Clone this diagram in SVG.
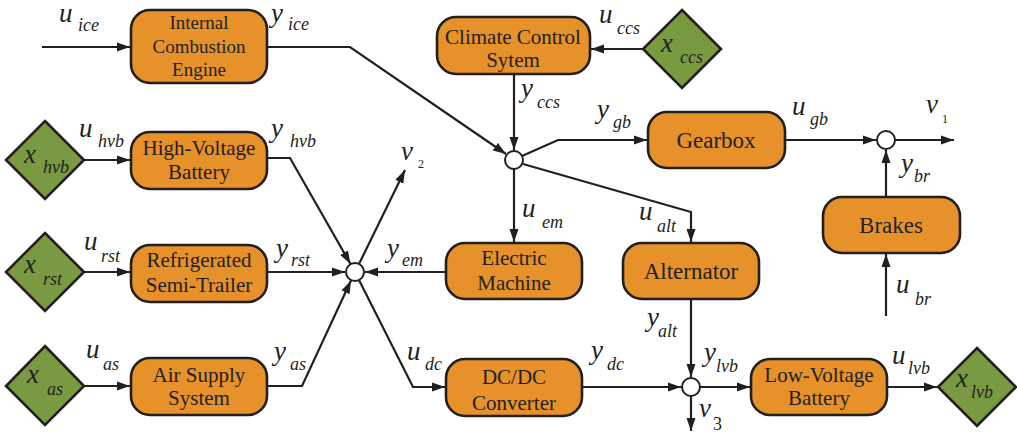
<svg xmlns="http://www.w3.org/2000/svg" width="1017" height="436" viewBox="0 0 1017 436">
<style>
svg text, svg tspan, #nodes text, #labels text, #labels tspan {font-family:"Liberation Serif","Times New Roman",serif !important}
</style>
<defs>
<marker id="ah" markerUnits="userSpaceOnUse" markerWidth="14" markerHeight="10" refX="13" refY="5" orient="auto">
<path d="M0,0.5 L13,5 L0,9.5 z" fill="#231F20" stroke="none"/>
</marker>
</defs>

<g id="connectors" fill="none" stroke="#231F20" stroke-width="2.2" marker-end="url(#ah)">
<path d="M42,47 H130"/>
<path d="M267,47 H350 L506,154"/>
<path d="M643,49 H591"/>
<path d="M514,74 V150"/>
<path d="M522,156 L558,140 H647"/>
<path d="M514,169 V242"/>
<path d="M523,164 L691,212 V242"/>
<path d="M785,140 H876"/>
<path d="M895,140 H954"/>
<path d="M886,197 V150"/>
<path d="M886,316 V254"/>
<path d="M85,160 H130"/>
<path d="M267,158 H290 L350.5,264"/>
<path d="M359,264 L405,170"/>
<path d="M85,272 H130"/>
<path d="M267,272 H345"/>
<path d="M446,272 H365"/>
<path d="M85,386 H130"/>
<path d="M267,386 H302 L351,280.5"/>
<path d="M359,280 L413,387 H445"/>
<path d="M582,387 H681"/>
<path d="M691,299 V377"/>
<path d="M700,387 H750"/>
<path d="M691,396 V431"/>
<path d="M887,387 H937"/>
</g>

<g id="sums" fill="#fff" stroke="#231F20" stroke-width="2">
<g id="sum1"><circle cx="514" cy="160" r="9"/></g>
<g id="sum2"><circle cx="886" cy="140" r="9"/></g>
<g id="sum3"><circle cx="355" cy="272" r="9"/></g>
<g id="sum4"><circle cx="691" cy="387" r="9"/></g>
</g>

<g id="nodes" font-family="Liberation Serif" text-anchor="middle" font-size="21">
<g id="ice"><rect fill="#E6912A" stroke="#231F20" stroke-width="2.6" x="131" y="10" width="136" height="73" rx="19"/>
<text style="font-family:'Liberation Serif',serif !important" fill="#231F20" font-size="19" x="199" y="29">Internal</text><text style="font-family:'Liberation Serif',serif !important" fill="#231F20" font-size="19" x="199" y="53">Combustion</text><text style="font-family:'Liberation Serif',serif !important" fill="#231F20" font-size="19" x="199" y="76">Engine</text></g>
<g id="ccs"><rect fill="#E6912A" stroke="#231F20" stroke-width="2.6" x="437" y="17" width="153" height="57" rx="19"/>
<text style="font-family:'Liberation Serif',serif !important" fill="#231F20" x="513" y="44">Climate Control</text><text style="font-family:'Liberation Serif',serif !important" fill="#231F20" x="513" y="67">Sytem</text></g>
<g id="xccs"><path fill="#7A9A42" stroke="#231F20" stroke-width="2.6" d="M682,10 L721,49 L682,88 L643,49 z"/></g>
<g id="gearbox"><rect fill="#E6912A" stroke="#231F20" stroke-width="2.6" x="648" y="112" width="137" height="56" rx="19"/>
<text style="font-family:'Liberation Serif',serif !important" fill="#231F20" font-size="23" x="716" y="148">Gearbox</text></g>
<g id="brakes"><rect fill="#E6912A" stroke="#231F20" stroke-width="2.6" x="823" y="197" width="137" height="56" rx="19"/>
<text style="font-family:'Liberation Serif',serif !important" fill="#231F20" font-size="23" x="891" y="233">Brakes</text></g>
<g id="alternator"><rect fill="#E6912A" stroke="#231F20" stroke-width="2.6" x="623" y="243" width="136" height="56" rx="19"/>
<text style="font-family:'Liberation Serif',serif !important" fill="#231F20" font-size="23" x="691" y="279">Alternator</text></g>
<g id="em"><rect fill="#E6912A" stroke="#231F20" stroke-width="2.6" x="446" y="243" width="136" height="56" rx="19"/>
<text style="font-family:'Liberation Serif',serif !important" fill="#231F20" x="514" y="265">Electric</text><text style="font-family:'Liberation Serif',serif !important" fill="#231F20" x="514" y="290">Machine</text></g>
<g id="hvb"><rect fill="#E6912A" stroke="#231F20" stroke-width="2.6" x="131" y="132" width="136" height="57" rx="19"/>
<text style="font-family:'Liberation Serif',serif !important" fill="#231F20" x="199" y="155">High-Voltage</text><text style="font-family:'Liberation Serif',serif !important" fill="#231F20" x="199" y="179">Battery</text></g>
<g id="xhvb"><path fill="#7A9A42" stroke="#231F20" stroke-width="2.6" d="M45,121 L84,160 L45,199 L6,160 z"/></g>
<g id="rst"><rect fill="#E6912A" stroke="#231F20" stroke-width="2.6" x="131" y="245" width="136" height="57" rx="19"/>
<text style="font-family:'Liberation Serif',serif !important" fill="#231F20" x="199" y="267">Refrigerated</text><text style="font-family:'Liberation Serif',serif !important" fill="#231F20" x="199" y="292">Semi-Trailer</text></g>
<g id="xrst"><path fill="#7A9A42" stroke="#231F20" stroke-width="2.6" d="M45,233 L84,272 L45,311 L6,272 z"/></g>
<g id="as"><rect fill="#E6912A" stroke="#231F20" stroke-width="2.6" x="131" y="358" width="136" height="57" rx="19"/>
<text style="font-family:'Liberation Serif',serif !important" fill="#231F20" x="199" y="382">Air Supply</text><text style="font-family:'Liberation Serif',serif !important" fill="#231F20" x="199" y="405">System</text></g>
<g id="xas"><path fill="#7A9A42" stroke="#231F20" stroke-width="2.6" d="M45,346 L84,386 L45,425 L6,386 z"/></g>
<g id="dcdc"><rect fill="#E6912A" stroke="#231F20" stroke-width="2.6" x="446" y="359" width="136" height="57" rx="19"/>
<text style="font-family:'Liberation Serif',serif !important" fill="#231F20" x="514" y="384">DC/DC</text><text style="font-family:'Liberation Serif',serif !important" fill="#231F20" x="514" y="410">Converter</text></g>
<g id="lvb"><rect fill="#E6912A" stroke="#231F20" stroke-width="2.6" x="751" y="359" width="136" height="56" rx="19"/>
<text style="font-family:'Liberation Serif',serif !important" fill="#231F20" x="819" y="382">Low-Voltage</text><text style="font-family:'Liberation Serif',serif !important" fill="#231F20" x="819" y="405">Battery</text></g>
<g id="xlvb"><path fill="#7A9A42" stroke="#231F20" stroke-width="2.6" d="M977,348 L1016,387 L977,426 L938,387 z"/></g>
</g>

<g id="labels" font-family="Liberation Serif" font-style="italic" font-size="27" fill="#231F20">
<text style="font-family:'Liberation Serif',serif !important" x="59" y="22">u<tspan font-size="18" x="78" y="31">ice</tspan></text>
<text style="font-family:'Liberation Serif',serif !important" x="271" y="22">y<tspan font-size="18" x="288" y="30">ice</tspan></text>
<text style="font-family:'Liberation Serif',serif !important" x="599" y="23">u<tspan font-size="18" x="617" y="34">ccs</tspan></text>
<text style="font-family:'Liberation Serif',serif !important" x="661" y="52">x<tspan font-size="18" x="680" y="63">ccs</tspan></text>
<text style="font-family:'Liberation Serif',serif !important" x="521" y="97">y<tspan font-size="18" x="537" y="108">ccs</tspan></text>
<text style="font-family:'Liberation Serif',serif !important" x="597" y="118">y<tspan font-size="18" x="613" y="128">gb</tspan></text>
<text style="font-family:'Liberation Serif',serif !important" x="792" y="115">u<tspan font-size="18" x="810" y="125">gb</tspan></text>
<text style="font-family:'Liberation Serif',serif !important" x="926" y="113">v<tspan font-style="normal" font-size="12" x="942" y="123">1</tspan></text>
<text style="font-family:'Liberation Serif',serif !important" x="901" y="172">y<tspan font-size="18" x="914" y="182">br</tspan></text>
<text style="font-family:'Liberation Serif',serif !important" x="639" y="220">u<tspan font-size="18" x="657" y="232">alt</tspan></text>
<text style="font-family:'Liberation Serif',serif !important" x="896" y="293">u<tspan font-size="18" x="915" y="305">br</tspan></text>
<text style="font-family:'Liberation Serif',serif !important" x="79" y="137">u<tspan font-size="18" x="98" y="147">hvb</tspan></text>
<text style="font-family:'Liberation Serif',serif !important" x="24" y="163">x<tspan font-size="18" x="43" y="173">hvb</tspan></text>
<text style="font-family:'Liberation Serif',serif !important" x="271" y="137">y<tspan font-size="18" x="290" y="147">hvb</tspan></text>
<text style="font-family:'Liberation Serif',serif !important" x="401" y="160">v<tspan font-style="normal" font-size="12" x="418" y="168">2</tspan></text>
<text style="font-family:'Liberation Serif',serif !important" x="84" y="250">u<tspan font-size="18" x="101" y="262">rst</tspan></text>
<text style="font-family:'Liberation Serif',serif !important" x="24" y="273">x<tspan font-size="18" x="43" y="285">rst</tspan></text>
<text style="font-family:'Liberation Serif',serif !important" x="276" y="257">y<tspan font-size="18" x="291" y="266">rst</tspan></text>
<text style="font-family:'Liberation Serif',serif !important" x="387" y="257">y<tspan font-size="18" x="402" y="266">em</tspan></text>
<text style="font-family:'Liberation Serif',serif !important" x="522" y="217">u<tspan font-size="18" x="542" y="228">em</tspan></text>
<text style="font-family:'Liberation Serif',serif !important" x="86" y="358">u<tspan font-size="18" x="103" y="370">as</tspan></text>
<text style="font-family:'Liberation Serif',serif !important" x="27" y="383">x<tspan font-size="18" x="47" y="395">as</tspan></text>
<text style="font-family:'Liberation Serif',serif !important" x="274" y="360">y<tspan font-size="18" x="290" y="370">as</tspan></text>
<text style="font-family:'Liberation Serif',serif !important" x="407" y="360">u<tspan font-size="18" x="425" y="370">dc</tspan></text>
<text style="font-family:'Liberation Serif',serif !important" x="591" y="359">y<tspan font-size="18" x="607" y="370">dc</tspan></text>
<text style="font-family:'Liberation Serif',serif !important" x="647" y="326">y<tspan font-size="18" x="658" y="337">alt</tspan></text>
<text style="font-family:'Liberation Serif',serif !important" x="704" y="361">y<tspan font-size="18" x="716" y="372">lvb</tspan></text>
<text style="font-family:'Liberation Serif',serif !important" x="699" y="417">v<tspan font-style="normal" font-size="18" x="713" y="430">3</tspan></text>
<text style="font-family:'Liberation Serif',serif !important" x="892" y="364">u<tspan font-size="18" x="908" y="374">lvb</tspan></text>
<text style="font-family:'Liberation Serif',serif !important" x="956" y="387">x<tspan font-size="18" x="971" y="398">lvb</tspan></text>
</g>
</svg>
